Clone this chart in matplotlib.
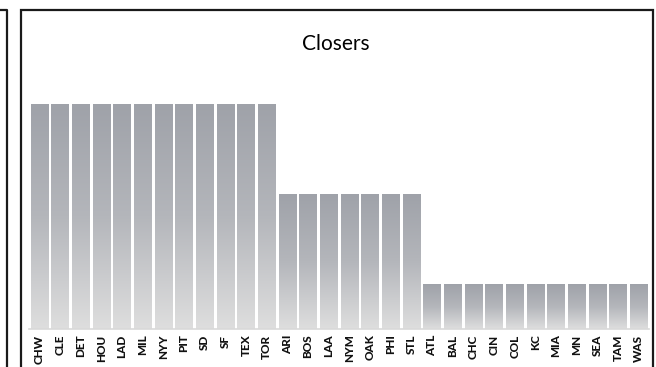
import numpy as np
import matplotlib
matplotlib.use("Agg")
import matplotlib.pyplot as plt
from matplotlib.patches import Rectangle
from matplotlib.lines import Line2D

teams = ["CHW", "CLE", "DET", "HOU", "LAD", "MIL", "NYY", "PIT", "SD", "SF", "TEX", "TOR",
         "ARI", "BOS", "LAA", "NYM", "OAK", "PHI", "STL",
         "ATL", "BAL", "CHC", "CIN", "COL", "KC", "MIA", "MN", "SEA", "TAM", "WAS"]
closers = [5, 5, 5, 5, 5, 5, 5, 5, 5, 5, 5, 5,
           3, 3, 3, 3, 3, 3, 3,
           1, 1, 1, 1, 1, 1, 1, 1, 1, 1, 1]

W, H = 656, 367
fig = plt.figure(figsize=(W / 100, H / 100), dpi=100)

# axes placed in pixels: baseline at y=329, plot spans x 29..650
ax = fig.add_axes([29 / W, (H - 329) / H, (649 - 29) / W, 270 / H])
x = np.arange(len(teams))
bars = ax.bar(x, closers, width=0.84, color="none", edgecolor="none")

# vertical gradient inside each bar: darker at top, lighter at bottom
grad = np.linspace(0, 1, 256).reshape(-1, 1)
cmap = matplotlib.colors.LinearSegmentedColormap.from_list("g", ["#9fa2a9", "#b4b6bb", "#dedede"])
for b in bars:
    x0, w, h = b.get_x(), b.get_width(), b.get_height()
    ax.imshow(grad, extent=(x0, x0 + w, h, 0), aspect="auto", cmap=cmap,
              origin="lower", zorder=2)

ax.set_xlim(-0.5, len(teams) - 0.5)
ax.set_ylim(0, 6)
ax.set_xticks(x)
ax.set_xticklabels(teams, rotation=90, fontsize=8.5, fontweight="black",
                   family=["Lato", "DejaVu Sans"], color="#111111")
ax.tick_params(axis="x", length=0, pad=4)
ax.set_yticks([])
for s in ["top", "left", "right"]:
    ax.spines[s].set_visible(False)
ax.spines["bottom"].set_color("#d9d9d9")
ax.spines["bottom"].set_linewidth(1.2)
ax.patch.set_alpha(0)

fig.text(336 / W, 1 - 44 / H, "Closers", ha="center", va="center", fontsize=15,
         family=["Lato", "DejaVu Sans"])

# chart frame and edge of neighbouring chart
fig.patches.append(Rectangle((21 / W, -0.05), (653 - 21) / W, 1.05 - 10 / H,
                             transform=fig.transFigure, fill=False,
                             edgecolor="#1a1a1a", linewidth=1.6))
fig.lines.append(Line2D([0, 7 / W, 7 / W], [1 - 10 / H, 1 - 10 / H, -0.05],
                        transform=fig.transFigure, color="#1a1a1a", linewidth=1.6))

fig.savefig("out.png", dpi=100)
